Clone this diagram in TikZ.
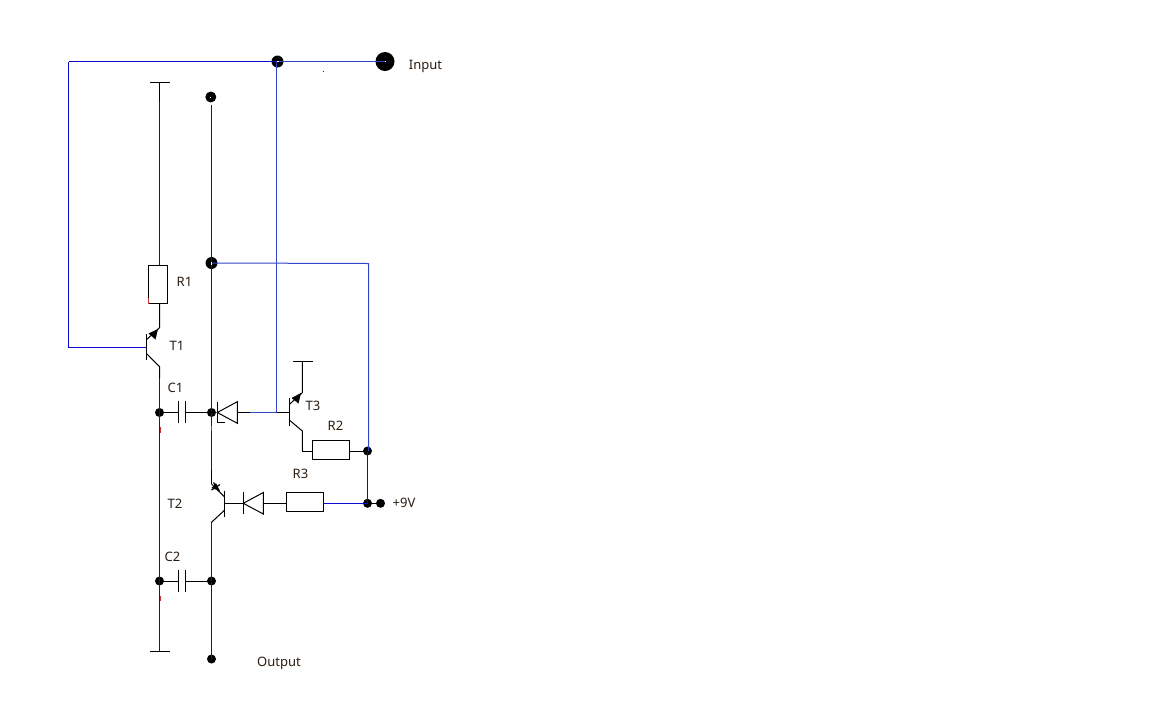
\documentclass[tikz,border=0pt]{standalone}
\usepackage{fontspec}
\setmainfont{Noto Sans}
\definecolor{wireblue}{HTML}{0A0AD2}
\definecolor{softblue}{HTML}{3244C8}
\definecolor{labelink}{HTML}{2A1C10}
\definecolor{speck}{HTML}{D03030}
\tikzset{
  x=1pt,y=-1pt,
  wire/.style={draw=black,line width=1pt},
  bwire/.style={draw=wireblue,line width=1pt},
  swire/.style={draw=softblue,line width=1pt},
  part/.style={draw=black,line width=1pt,fill=white,inner sep=0pt,minimum width=#1},
  dotb/.style={circle,fill=black,inner sep=0pt,minimum size=#1},
  lbl/.style={text=labelink,font=\fontsize{13}{15}\selectfont,inner sep=0pt},
  hole/.style={fill=white,draw=none}
}
\begin{document}
\begin{tikzpicture}
\useasboundingbox (0,0) rectangle (1152,724);
\fill[white] (0,0) rectangle (1152,724);
% named points
\coordinate (lt) at (68.5,61.5);
\coordinate (lb) at (68.5,347.5);
\coordinate (t1base) at (146.7,347.5);
\coordinate (rtop) at (159.5,82.5);
\coordinate (t1em) at (159.5,327.7);
\coordinate (t1emb) at (146.7,339.5);
\coordinate (t1col) at (159.5,366.7);
\coordinate (t1colb) at (146.7,353.7);
\coordinate (t1blue) at (159.5,378);
\coordinate (rbot) at (159.5,651.5);
\coordinate (fbtop) at (276.5,61.5);
\coordinate (fbjoin) at (276.5,412.5);
\coordinate (dbw) at (250,412.5);
\coordinate (t3base) at (289.3,412.5);
\coordinate (rr) at (368.5,263.5);
\coordinate (rrb) at (368.5,451);
\coordinate (t2up) at (211.5,484);
\coordinate (t2upb) at (224.7,497);
\coordinate (t2low) at (211.5,522.3);
\coordinate (t2lowb) at (224.7,510);
\coordinate (t2base) at (224.7,503.3);
\coordinate (t3em) at (302.3,392.7);
\coordinate (t3emb) at (289.3,404.5);
\coordinate (t3top) at (302.3,361.5);
\coordinate (t3col) at (302.3,431);
\coordinate (t3colb) at (289.3,420);
\coordinate (t3r) at (302.3,451);
% dots
\node[dotb=12pt] (jin) at (277.5,61.5) {};
\node[dotb=19pt] (input) at (385,61.5) {};
\node[dotb=11pt] (jtop) at (210.8,97) {};
\node[dotb=12pt] (jmid) at (211.5,263) {};
\node[dotb=9pt] (j1) at (159.5,412.5) {};
\node[dotb=9pt] (j2) at (211.5,412.5) {};
\node[dotb=9pt] (j3) at (159.5,581) {};
\node[dotb=9pt] (j4) at (211.5,581) {};
\node[dotb=9pt] (out) at (211.5,659) {};
\node[dotb=9pt] (j5) at (367.5,451) {};
\node[dotb=9pt] (j6) at (367.5,503.3) {};
\node[dotb=9pt] (vplus) at (380.5,503.3) {};
% parts
\node[part=19pt,minimum height=37.5pt] (R1) at (158,284.7) {};
\node[part=37.5pt,minimum height=19.3pt] (R2) at (331,449.7) {};
\node[part=37.5pt,minimum height=19pt] (R3) at (305,501.8) {};
% blue wires
\draw[bwire] (lt) -- (jin.center);
\draw[bwire] (lt) -- (lb) -- (t1base);
\draw[swire] (jin.center) -- (input.center);
\draw[swire] (fbtop) -- (fbjoin) -- (dbw);
\draw[swire] (jmid.center) -- (rr) -- (rrb);
\draw[bwire] (367.5,451) -- (j6.center);
\draw[bwire] (R3.east |- j6) -- (j6.center);
\draw[bwire] (rtop) ++(0,18) -- (R1.north -| rtop);
\draw[bwire] (jtop.center) ++(0.7,8) -- (t2up);
\draw[bwire] (t1blue) -- (rbot);
\draw[bwire] (t2low) -- (out.center);
\draw[bwire] (t3r) -- ++(0,-6);
% black wires
\draw[wire] (rtop) -- ++(0,18);
\draw[wire] (150,82.5) -- (170,82.5);
\draw[wire] (150,651.5) -- (170,651.5);
\draw[wire] (R1.south -| rtop) -- (t1em) -- (t1emb);
\draw[wire] (146.7,334) -- (146.7,360);
\draw[wire] (t1colb) -- (t1col) -- (t1blue);
\draw[wire] (j6.center) -- (vplus.center);
\draw[wire] (R2.east |- j5) -- (j5.center);
\draw[wire] (t3r) -- (R2.west |- t3r);
% C1
\draw[wire] (j1.center) -- (178.7,412.5) (185.3,412.5) -- (j2.center);
\draw[wire] (178.7,401) -- (178.7,422.7) (185.3,401) -- (185.3,422.7);
% C2
\draw[wire] (j3.center) -- (178.3,581) (185.3,581) -- (j4.center);
\draw[wire] (178.3,570) -- (178.3,591.7) (185.3,570) -- (185.3,591.7);
% D1
\draw[wire] (217.3,412.5) -- (237.3,401.7) -- (237.3,423.3) -- cycle;
\draw[wire] (225,422.5) -- (217.3,422.5) -- (217.3,401.7);
\draw[wire] (237.3,412.5) -- (dbw);
\draw[wire] (fbjoin) -- (t3base);
% T3
\draw[wire] (289.3,398.3) -- (289.3,426);
\draw[wire] (t3emb) -- (t3em) -- (t3top);
\draw[wire] (293.3,361.5) -- (312.7,361.5);
\draw[wire] (t3colb) -- (t3col) -- (t3r);
\fill (291.5,398) -- (301,393) -- (298.5,403.5) -- cycle;
% T1 arrow
\fill (148.5,333.5) -- (158,329) -- (155.5,339.5) -- cycle;
% T2
\draw[wire] (224.7,490.7) -- (224.7,516.7);
\draw[wire] (t2up) -- (t2upb);
\draw[wire] (t2lowb) -- (t2low);
\draw[wire] (211.5,470) -- (t2up);
\fill (211.5,488) -- (216,483) -- (220,491) -- cycle;
\draw[wire,line width=1.2pt] (211.5,490) -- (220,484.5) (213.5,482.5) -- (219,491);
\draw[wire] (t2base) -- (243.3,503.3);
\draw[wire] (243.3,492) -- (243.3,514);
\draw[wire] (243.3,503.3) -- (263.3,492.5) -- (263.3,514) -- cycle;
\draw[wire] (263.3,503.3) -- (R3.west |- t2base);
% holes in dots and specks
\fill[hole] (384.6,61) rectangle (385.6,62.2);
\fill[hole] (276.5,61) rectangle (279,62);
\fill[hole] (210.3,96.5) rectangle (211.3,98);
\fill[hole] (210.8,261.5) rectangle (212.3,264.5);
\fill[wireblue] (323,71) rectangle (324,72);
\fill[speck] (148,298) rectangle (149,304);
\fill[speck] (159.5,427) rectangle (160.5,433);
\fill[speck] (211,426) rectangle (212,431);
\fill[speck] (159.5,596) rectangle (160.5,601);
% labels
\node[lbl] (tinput) at (425.5,66) {Input};
\node[lbl] (tr1) at (184.5,281.5) {R1};
\node[lbl] (tt1) at (177,346) {T1};
\node[lbl] (tc1) at (175.5,388) {C1};
\node[lbl] (tt3) at (313,406) {T3};
\node[lbl] (tr2) at (335.5,426) {R2};
\node[lbl] (tr3) at (300.5,474) {R3};
\node[lbl] (tv) at (404,502.5) {+9V};
\node[lbl] (tt2) at (175,504) {T2};
\node[lbl] (tc2) at (172.5,557) {C2};
\node[lbl] (toutput) at (279,663) {Output};
\end{tikzpicture}
\end{document}
